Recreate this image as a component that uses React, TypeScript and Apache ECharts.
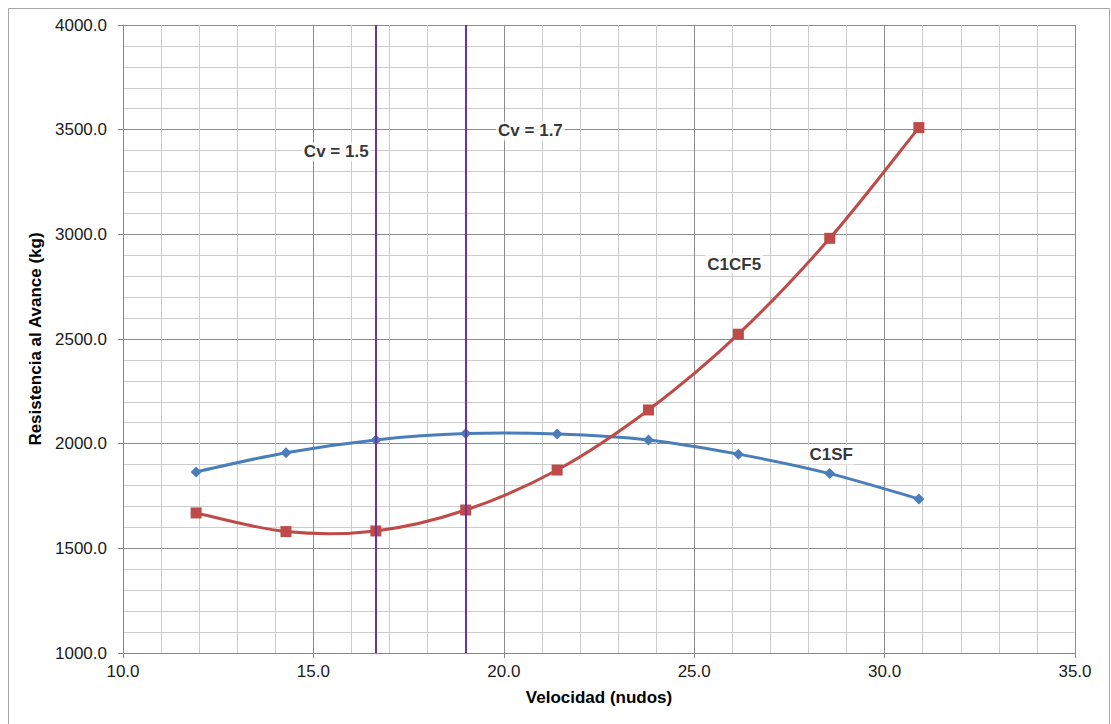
import React, { useEffect, useRef } from "react";
import * as echarts from "echarts";

const velocidad = [11.92, 14.28, 16.64, 19.0, 21.4, 23.8, 26.16, 28.56, 30.9];
const c1sf = [1865, 1957, 2018, 2048, 2046, 2018, 1950, 1857, 1736];
const c1cf5 = [1669, 1580, 1583, 1683, 1874, 2161, 2523, 2981, 3510];
const cvLines = [16.64, 19.0];
const annotations = [
  { text: "Cv = 1.5", x: 15.6, y: 3394 },
  { text: "Cv = 1.7", x: 20.7, y: 3494 },
  { text: "C1CF5", x: 26.05, y: 2858 },
  { text: "C1SF", x: 28.6, y: 1946 },
];

const FONT = "Liberation Sans, Arial, sans-serif";
const BLUE = "#4A7EBB";
const RED = "#BE4B48";

function curveSeries(name: string, xs: number[], ys: number[], color: string) {
  const n = xs.length;
  return {
    name: name + "-curve",
    type: "custom",
    coordinateSystem: "cartesian2d",
    z: 3,
    silent: true,
    data: xs.map((x, i) => [x, ys[i]]),
    renderItem: (params: any, api: any) => {
      const i = params.dataIndex;
      if (i >= n - 1) return { type: "group", children: [] };
      const p = (j: number) => {
        const k = Math.max(0, Math.min(n - 1, j));
        return api.coord([xs[k], ys[k]]);
      };
      const p0 = p(i - 1);
      const p1 = p(i);
      const p2 = p(i + 1);
      const p3 = p(i + 2);
      return {
        type: "bezierCurve",
        shape: {
          x1: p1[0],
          y1: p1[1],
          x2: p2[0],
          y2: p2[1],
          cpx1: p1[0] + (p2[0] - p0[0]) / 6,
          cpy1: p1[1] + (p2[1] - p0[1]) / 6,
          cpx2: p2[0] - (p3[0] - p1[0]) / 6,
          cpy2: p2[1] - (p3[1] - p1[1]) / 6,
        },
        style: { stroke: color, lineWidth: 3, fill: "none", lineCap: "round" },
      };
    },
  };
}

export default function App() {
  const ref = useRef<HTMLDivElement>(null);
  useEffect(() => {
    document.body.style.margin = "0";
    const chart = echarts.init(ref.current!, null, { renderer: "svg" });
    const axisCommon = {
      axisLine: { show: true, lineStyle: { color: "#868686", width: 1 } },
      axisTick: { show: true, inside: false, length: 5, lineStyle: { color: "#868686" } },
      splitLine: { show: true, lineStyle: { color: "#8c8c8c", width: 1 } },
      minorTick: { show: true, splitNumber: 5, length: 0 },
      minorSplitLine: { show: true, lineStyle: { color: "#cccccc", width: 1 } },
    };
    chart.setOption({
      animation: false,
      textStyle: { fontFamily: FONT },
      graphic: [
        {
          type: "rect",
          shape: { x: 8.5, y: 8.5, width: 1101, height: 740 },
          style: { fill: "none", stroke: "#a6a6a6", lineWidth: 1 },
          silent: true,
        },
      ],
      grid: { left: 123, top: 25, right: 36, bottom: 71 },
      xAxis: {
        type: "value",
        min: 10,
        max: 35,
        interval: 5,
        name: "Velocidad (nudos)",
        nameLocation: "middle",
        nameGap: 36,
        nameTextStyle: { fontFamily: FONT, fontSize: 17, fontWeight: "bold", color: "#000" },
        axisLabel: {
          fontFamily: FONT,
          fontSize: 17,
          color: "#1a1a1a",
          margin: 10,
          formatter: (v: number) => v.toFixed(1),
        },
        ...axisCommon,
      },
      yAxis: {
        type: "value",
        min: 1000,
        max: 4000,
        interval: 500,
        name: "Resistencia al Avance (kg)",
        nameLocation: "middle",
        nameGap: 62,
        nameTextStyle: { fontFamily: FONT, fontSize: 17, fontWeight: "bold", color: "#000" },
        axisLabel: {
          fontFamily: FONT,
          fontSize: 17,
          color: "#1a1a1a",
          margin: 16,
          formatter: (v: number) => v.toFixed(1),
        },
        ...axisCommon,
      },
      series: [
        curveSeries("C1SF", velocidad, c1sf, BLUE),
        curveSeries("C1CF5", velocidad, c1cf5, RED),
        {
          name: "C1SF",
          type: "line",
          data: velocidad.map((x, i) => [x, c1sf[i]]),
          symbol: "diamond",
          symbolSize: 11,
          lineStyle: { opacity: 0 },
          itemStyle: { color: BLUE },
          z: 4,
        },
        {
          name: "C1CF5",
          type: "line",
          data: velocidad.map((x, i) => [x, c1cf5[i]]),
          symbol: "rect",
          symbolSize: 11,
          lineStyle: { opacity: 0 },
          itemStyle: { color: RED },
          z: 4,
          markLine: {
            silent: true,
            symbol: "none",
            label: { show: false },
            lineStyle: { color: "#7030A0", width: 2, type: "solid" },
            data: cvLines.map((x) => ({ xAxis: x })),
            z: 5,
          },
        },
        {
          name: "labels",
          type: "scatter",
          symbolSize: 1,
          itemStyle: { color: "rgba(0,0,0,0)" },
          z: 6,
          data: annotations.map((a) => ({
            value: [a.x, a.y],
            label: {
              show: true,
              position: "inside",
              formatter: a.text,
              fontFamily: FONT,
              fontSize: 17,
              fontWeight: "bold",
              color: "#000",
              backgroundColor: "#fff",
              padding: [1, 2],
            },
          })),
        },
      ],
    });
    return () => chart.dispose();
  }, []);
  return <div ref={ref} style={{ width: 1111, height: 724 }} />;
}
